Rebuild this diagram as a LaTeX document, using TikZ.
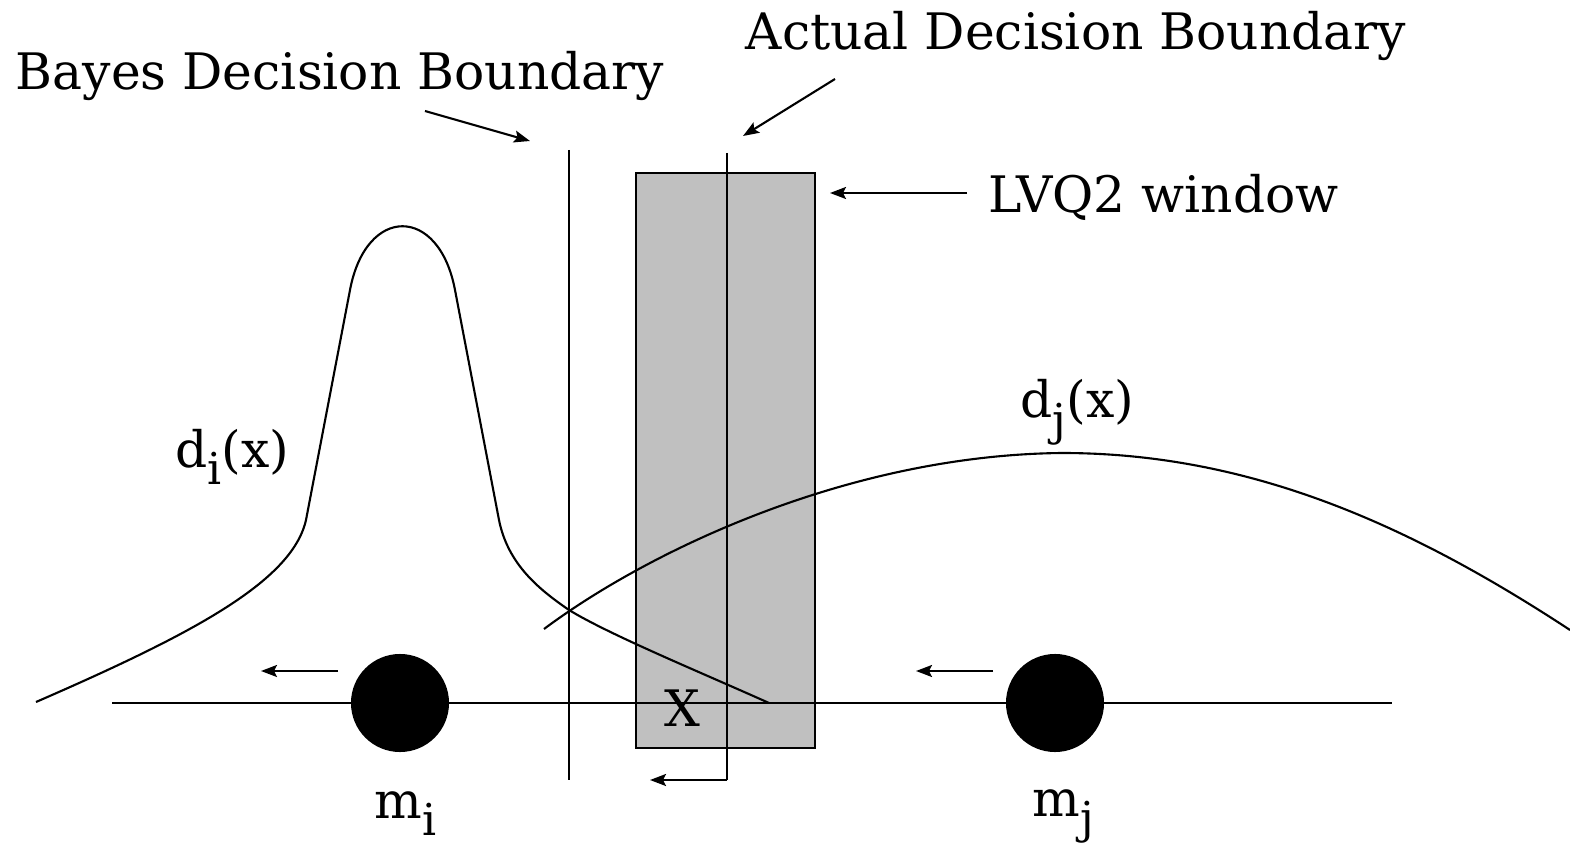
\documentclass[tikz,border=0pt]{standalone}
\usepackage{fontspec}
\setmainfont{DejaVu Serif}
\usepackage{xcolor}
\usepackage{tikz}
\usetikzlibrary{arrows.meta, positioning, calc}
\definecolor{winfill}{HTML}{C0C0C0}
\newcommand{\lowsub}[1]{\raisebox{-5pt}{\fontsize{12.5}{14}\selectfont #1}}
\tikzset{
    label/.style={inner sep=0pt, font=\fontsize{14.3}{17}\selectfont},
    thinline/.style={line width=0.6pt},
    pointer/.style={-{Stealth[length=1.6mm, width=1.2mm, inset=0.3mm]}, line width=0.6pt},
    proto/.style={circle, fill=black, minimum size=0.98cm, inner sep=0pt},
    curve/.style={line width=0.6pt}
}

\begin{document}
\begin{tikzpicture}[x=0.01cm, y=-0.01cm]
    \useasboundingbox (0,0) rectangle (1570,846);

    % LVQ2 window
    \draw [thinline, fill=winfill] (636,173) rectangle (815,748);

    % axis and prototypes
    \coordinate (axisL) at (112,703);
    \coordinate (axisR) at (1392,703);
    \draw [thinline] (axisL) -- (axisR);
    \node [proto] (mi) at (400,703) {};
    \node [proto] (mj) at (1055,703) {};

    % decision boundaries
    \coordinate (bayesTop) at (569,150);
    \coordinate (bayesBot) at (569,780);
    \coordinate (actTop) at (727,153);
    \coordinate (actBot) at (727,780);
    \draw [thinline] (bayesTop) -- (bayesBot);
    \draw [thinline] (actTop) -- (actBot);

    % class densities
    \draw [curve] (36,702) .. controls (190,635) and (292,582) .. (306,520)
        -- (350,290) .. controls (366,205) and (439,205) .. (455,290)
        -- (499,520) .. controls (508,565) and (540,590) .. (569,610)
        .. controls (610,635) and (700,672) .. (769,703);
    \draw [curve] (544,629) .. controls (650,550) and (850,455) .. (1062,453)
        .. controls (1250,453) and (1410,525) .. (1570,630);

    % labels
    \node [label, anchor=base] (bayes) at (340,90) {Bayes Decision Boundary};
    \node [label, anchor=base] (actual) at (1076,50) {Actual Decision Boundary};
    \node [label, anchor=base west] (window) at (988,213) {LVQ2 window};
    \node [label, anchor=base west] (di) at (175,467) {d\lowsub{i}(x)};
    \node [label, anchor=base west] (dj) at (1020,418) {d\lowsub{j}(x)};
    \node [label, anchor=base] (xlab) at (682,726) {X};
    \node [label, anchor=base west] (milab) at (374,818) {m\lowsub{i}};
    \node [label, anchor=base west] (mjlab) at (1032,816) {m\lowsub{j}};

    % pointers
    \coordinate (bayesTail) at (425,111);
    \coordinate (bayesTip) at (530,141);
    \coordinate (actTail) at (835,79);
    \coordinate (actTip) at (743,136);
    \coordinate (winTail) at (967,193);
    \coordinate (winTip) at (830,193);
    \draw [pointer] (bayesTail) -- (bayesTip);
    \draw [pointer] (actTail) -- (actTip);
    \draw [pointer] (winTail) -- (winTip);

    % moves
    \coordinate (miTail) at (338,671);
    \coordinate (miTip) at (261,671);
    \coordinate (mjTail) at (993,671);
    \coordinate (mjTip) at (916,671);
    \coordinate (actTip2) at (650,780);
    \draw [pointer] (miTail) -- (miTip);
    \draw [pointer] (mjTail) -- (mjTip);
    \draw [pointer] (actBot) -- (actTip2);
\end{tikzpicture}
\end{document}
